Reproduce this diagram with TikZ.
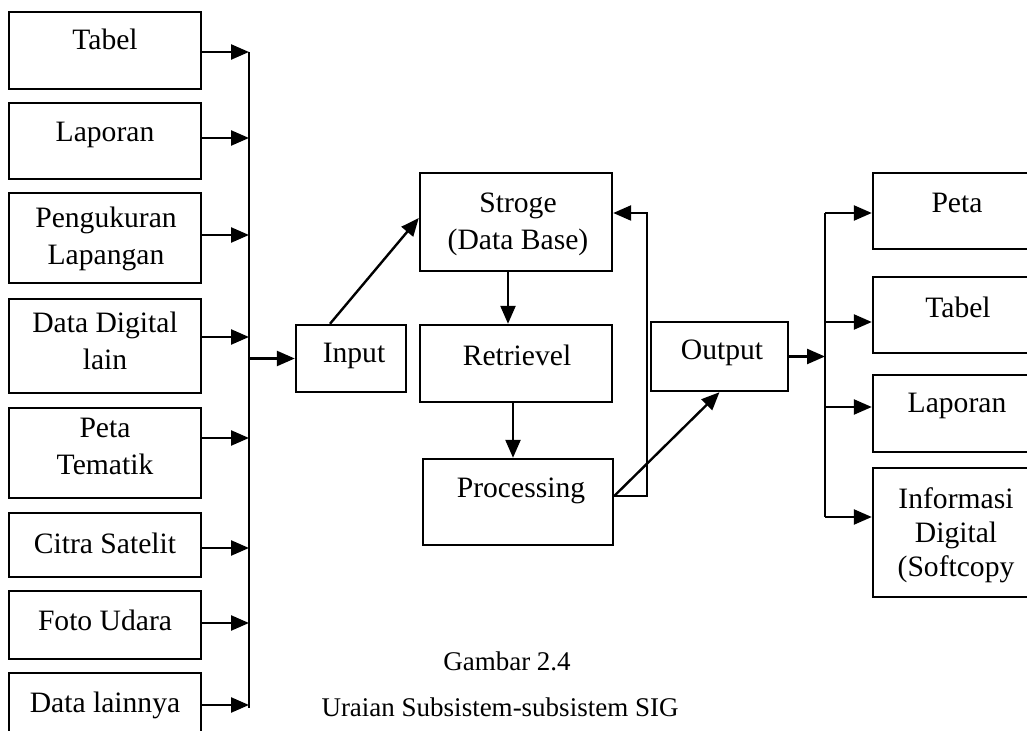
\documentclass[tikz,border=0pt]{standalone}
\usepackage{fontspec}
\setmainfont{Liberation Serif}
\usetikzlibrary{arrows.meta}

\tikzset{
  box/.style={draw, line width=1.2pt, inner sep=0pt},
  src/.style={box, minimum width=96pt},
  res/.style={box, minimum width=84pt},
  txt/.style={anchor=north, inner sep=0pt, align=center, font=\fontsize{14.8}{18.5}\selectfont},
  captxt/.style={anchor=north, inner sep=0pt, font=\fontsize{13.5}{16}\selectfont},
  arr/.style={line width=1.2pt, -{Triangle[length=9pt, width=7.5pt]}},
}

\begin{document}
\begin{tikzpicture}[x=0.5pt, y=-0.5pt]

	\useasboundingbox (0,0) rectangle (1027,731);
	\clip (0,0) rectangle (1027,731);

	% sumber data
	\node[src, minimum height=38.5pt] (tabelIn) at (105,50.5) {};
	\node[src, minimum height=38pt] (laporanIn) at (105,141) {};
	\node[src, minimum height=45pt] (ukur) at (105,238) {};
	\node[src, minimum height=47pt] (digital) at (105,346) {};
	\node[src, minimum height=45pt] (tematik) at (105,453) {};
	\node[src, minimum height=32pt] (citra) at (105,545) {};
	\node[src, minimum height=34pt] (foto) at (105,625) {};
	\node[src, minimum height=38.5pt] (lainnya) at (105,711.5) {};

	\node[txt] (t-tabelIn) at (105,29) {Tabel};
	\node[txt] (t-laporanIn) at (105,122) {Laporan};
	\node[txt] (t-ukur) at (106,207) {Pengukuran\\Lapangan};
	\node[txt] (t-digital) at (105,312) {Data Digital\\lain};
	\node[txt] (t-tematik) at (105,418) {Peta\\Tematik};
	\node[txt] (t-citra) at (105,533) {Citra Satelit};
	\node[txt] (t-foto) at (105,610) {Foto Udara};
	\node[txt] (t-lainnya) at (105,692) {Data lainnya};

	% subsistem
	\node[box, minimum width=55pt, minimum height=33.5pt] (input) at (351,358.5) {};
	\node[box, minimum width=96pt, minimum height=49pt] (storage) at (516,222) {};
	\node[box, minimum width=96pt, minimum height=38.5pt] (retrievel) at (516,363.5) {};
	\node[box, minimum width=95pt, minimum height=43pt] (processing) at (518,502) {};
	\node[box, minimum width=68.5pt, minimum height=34.5pt] (output) at (719.5,356.5) {};

	\node[txt] (t-input) at (354,343) {Input};
	\node[txt] (t-storage) at (518,193) {Stroge\\(Data Base)};
	\node[txt] (t-retrievel) at (517,345) {Retrievel};
	\node[txt] (t-processing) at (521,478) {Processing};
	\node[txt] (t-output) at (722,340) {Output};

	% hasil
	\node[res, minimum height=38pt] (peta) at (957,211) {};
	\node[res, minimum height=38pt] (tabelOut) at (957,315) {};
	\node[res, minimum height=38.5pt] (laporanOut) at (957,413.5) {};
	\node[res, minimum height=64.5pt] (info) at (957,532.5) {};

	\node[txt] (t-peta) at (957,193) {Peta};
	\node[txt] (t-tabelOut) at (958,297) {Tabel};
	\node[txt] (t-laporanOut) at (957,393) {Laporan};
	\node[txt, font=\fontsize{14.8}{17}\selectfont] (t-info) at (956,487) {Informasi\\Digital\\(Softcopy};

	% garis kumpul kiri
	\coordinate (b1) at (249,52);
	\coordinate (b2) at (249,138);
	\coordinate (b3) at (249,235);
	\coordinate (b4) at (249,337);
	\coordinate (b5) at (249,438);
	\coordinate (b6) at (249,548);
	\coordinate (b7) at (249,623);
	\coordinate (b8) at (249,705);

	\draw[line width=1.2pt] (b1) -- ([yshift=-1.5pt]b8);
	\draw[arr] (tabelIn.east |- b1) -- (b1);
	\draw[arr] (laporanIn.east |- b2) -- (b2);
	\draw[arr] (ukur.east |- b3) -- (b3);
	\draw[arr] (digital.east |- b4) -- (b4);
	\draw[arr] (tematik.east |- b5) -- (b5);
	\draw[arr] (citra.east |- b6) -- (b6);
	\draw[arr] (foto.east |- b7) -- (b7);
	\draw[arr] (lainnya.east |- b8) -- (b8);
	\draw[arr] (input.west -| b1) -- (input.west);

	% alur tengah
	\draw[arr] ([xshift=-10.5pt]input.north) -- ([yshift=2pt]storage.west);
	\draw[arr] ([xshift=-4pt]storage.south) -- ([xshift=-4pt]retrievel.north);
	\draw[arr] ([xshift=-1.5pt]retrievel.south) -- ([xshift=-2.5pt]processing.north);
	\draw[arr] ([yshift=3pt]processing.east) -- (output.south);

	\coordinate (fb) at (647,213);
	\draw[arr] ([yshift=3pt]processing.east) -| (fb) -- (storage.east |- fb);

	% garis kumpul kanan
	\coordinate (r1) at (825,213);
	\coordinate (r2) at (825,322);
	\coordinate (r3) at (825,407);
	\coordinate (r4) at (825,517);

	\draw[line width=1.2pt] (r1) -- (r4);
	\draw[arr] (output.east) -- (output.east -| r1);
	\draw[arr] (r1) -- (peta.west |- r1);
	\draw[arr] (r2) -- (tabelOut.west |- r2);
	\draw[arr] (r3) -- (laporanOut.west |- r3);
	\draw[arr] (r4) -- (info.west |- r4);

	% keterangan
	\node[captxt] (gambar) at (507,651) {Gambar 2.4};
	\node[captxt] (uraian) at (500,697) {Uraian Subsistem-subsistem SIG};

\end{tikzpicture}
\end{document}
